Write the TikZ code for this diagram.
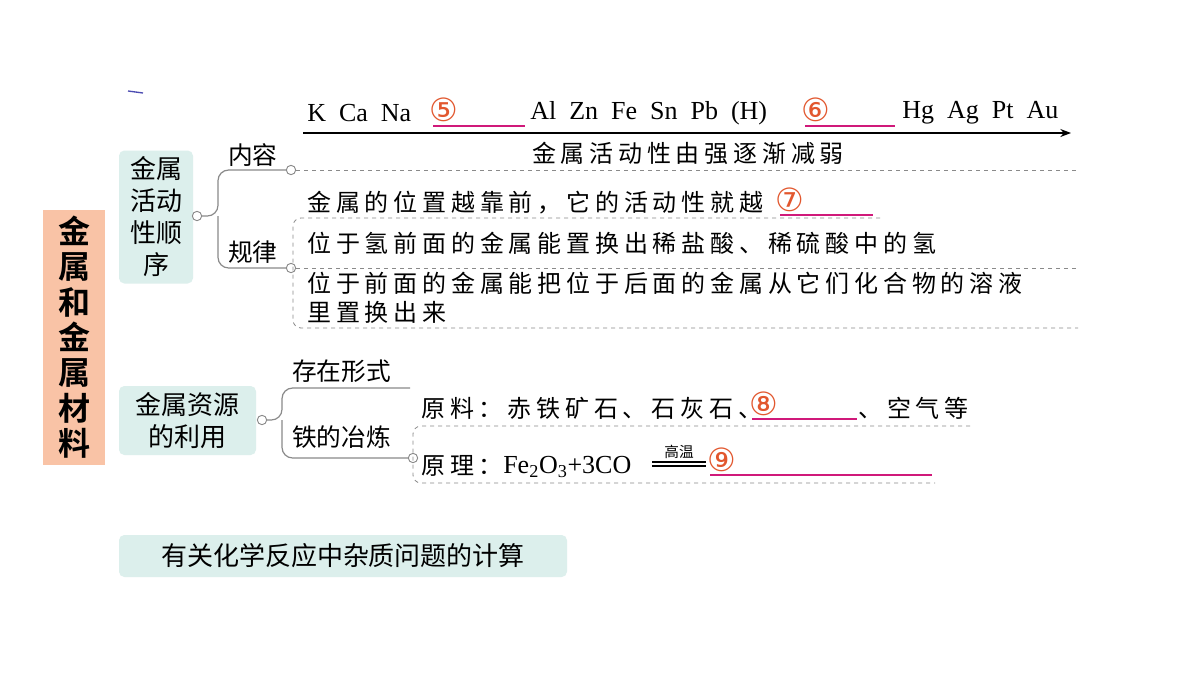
\documentclass[tikz,border=0pt]{standalone}
\usepackage{fontspec}
\setmainfont{Liberation Serif}
\newfontfamily\cjk{Noto Sans CJK SC}
\newfontfamily\cjkb{Noto Sans CJK SC Bold}
\newfontfamily\cjks[LetterSpace=20]{Noto Sans CJK SC}
\newfontfamily\dv{DejaVu Sans}
\usetikzlibrary{arrows.meta}
\definecolor{teal1}{HTML}{DCEFEC}
\definecolor{orbox}{HTML}{F9C3A6}
\definecolor{pinkl}{HTML}{D0197A}
\definecolor{numc}{HTML}{E2572E}
\definecolor{brc}{HTML}{8A8A8A}
\tikzset{
 lab/.style={font=\cjk\fontsize{18.5}{20}\selectfont, inner sep=0pt, anchor=west},
 txt/.style={font=\cjks\fontsize{18}{22}\selectfont, inner sep=0pt, anchor=west},
 lat/.style={font=\fontsize{19.5}{22}\selectfont, inner sep=0pt, anchor=west},
 num/.style={font=\dv\fontsize{24}{24}\selectfont, text=numc, inner sep=0pt},
 blank/.style={draw=pinkl, line width=1pt},
 dline/.style={draw=brc, dashed, line width=0.6pt},
 br/.style={draw=brc, line width=0.9pt, rounded corners=8pt},
 dot/.style={circle, draw=brc, fill=white, line width=0.7pt, inner sep=0pt, minimum size=7pt},
 tbox/.style={fill=teal1, rounded corners=4pt, font=\cjk\fontsize{19.5}{24}\selectfont, align=center, inner sep=0pt}
}
\begin{document}
\begin{tikzpicture}[x=0.75pt,y=-0.75pt]
\useasboundingbox (0,0) rectangle (1200,675);
\fill[white] (0,0) rectangle (1200,675);
\draw[blue!40!gray, line width=1pt] (128,91) -- (143,93);
% left main box
\node[fill=orbox, minimum width=62*0.75pt, minimum height=255*0.75pt, inner sep=0pt, font=\cjkb\fontsize{24}{26.5}\selectfont, align=center] (main) at (74,337) {金\\属\\和\\金\\属\\材\\料};
% box 1
\node[tbox, minimum width=74*0.75pt, minimum height=133*0.75pt] (b1) at (156,217) {金属\\活动\\性顺\\序};
\node[dot] (d1) at (197,216) {};
\draw[br] (d1) -- (218,216) |- (291,170);
\draw[br] (218,216) |- (291,268);
\node[lab] (nr) at (228,155) {内容};
\node[lab] (gl) at (228,252) {规律};
\node[dot] (d2) at (291,170) {};
\node[dot] (d3) at (291,268) {};
\draw[dline] (d2) -- (1078,170);
% arrow line
\coordinate (as) at (303,133);
\coordinate (ae) at (1071,133);
\draw[-{Stealth[length=8pt]}, line width=1pt] (as) -- (ae);
\node[lat] (m1) at (307,113) {K\ \ Ca\ \ Na};
\node[num] (n5) at (444,110) {⑤};
\draw[blank] (433,126) -- (525,126);
\node[lat] (m2) at (530,113) {Al\ \ Zn\ \ Fe\ \ Sn\ \ Pb\ \ (H)};
\node[num] (n6) at (816,110) {⑥};
\draw[blank] (805,126) -- (895,126);
\node[lat] (m3) at (902,113) {Hg\ \ Ag\ \ Pt\ \ Au};
\node[txt, anchor=center] (jz) at (688,153) {金属活动性由强逐渐减弱};
% rules
\node[txt] (r1) at (307,203) {金属的位置越靠前，它的活动性就越};
\node[num] (n7) at (790,200) {⑦};
\draw[blank] (780,215) -- (873,215);
\draw[dline, rounded corners=6pt] (880,218) -- (293,218) -- (293,328) -- (1078,328);
\node[txt] (r2) at (307,243) {位于氢前面的金属能置换出稀盐酸、稀硫酸中的氢};
\draw[dline] (d3) -- (1078,268);
\node[txt, align=left] (r3) at (307,298) {位于前面的金属能把位于后面的金属从它们化合物的溶液\\里置换出来};
% box 2
\node[tbox, minimum width=137*0.75pt, minimum height=69*0.75pt] (b2) at (187.5,420.5) {金属资源\\的利用};
\node[dot] (d4) at (262,420) {};
\draw[br] (d4) -- (282,420) |- (410,388);
\draw[br] (282,420) |- (413,458);
\node[lab] (cz) at (292,371) {存在形式};
\node[lab] (yl) at (292,437) {铁的冶炼};
\node[dot] (d5) at (413,458) {};
\node[txt] (yl1) at (421,408) {原料：赤铁矿石、石灰石、};
\node[num] (n8) at (764,404) {⑧};
\draw[blank] (752,419) -- (857,419);
\node[txt] (yl2) at (858,408) {、空气等};
\draw[dline, rounded corners=6pt] (970,426) -- (413,426) -- (413,483) -- (935,483);
\node[txt] (yl3) at (421,466) {原理：};
\node[lat] (eq) at (503,467) {Fe\textsubscript{2}O\textsubscript{3}+3CO};
\draw[line width=0.8pt] (652,462) -- (706,462) (652,466) -- (706,466);
\node[font=\cjk\fontsize{11}{12}\selectfont, inner sep=0pt] (gw) at (679,452) {高温};
\node[num] (n9) at (722,460) {⑨};
\draw[blank] (710,475) -- (932,475);
% bottom box
\node[tbox, minimum width=448*0.75pt, minimum height=42*0.75pt, font=\cjk\fontsize{19.5}{22}\selectfont] (b3) at (343,556) {有关化学反应中杂质问题的计算};
\end{tikzpicture}
\end{document}
